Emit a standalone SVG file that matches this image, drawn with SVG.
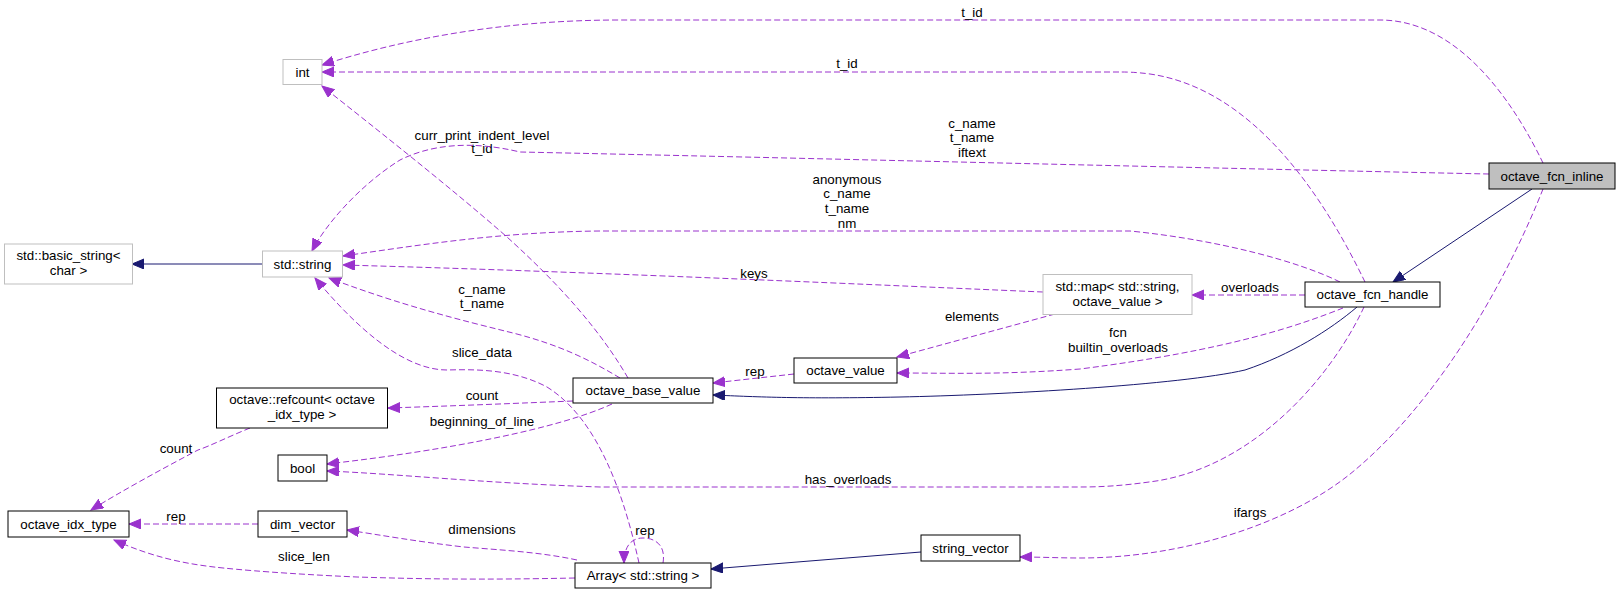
<svg xmlns="http://www.w3.org/2000/svg" width="1620" height="595" viewBox="0 0 1620 595">
<defs>
<style>
.n rect{fill:#fff;stroke:#000;stroke-width:1}
.n.g rect{stroke:#bfbfbf}
.n.cur rect{fill:#bfbfbf}
text{font-family:"Liberation Sans",Arial,Helvetica,sans-serif;font-size:13.33px;fill:#000;text-anchor:middle}
.e{fill:none;stroke:#9a32cd;stroke-width:1;stroke-dasharray:6,3;marker-end:url(#ap)}
.i{fill:none;stroke:#191970;stroke-width:1;marker-end:url(#an)}
</style>
<marker id="ap" markerUnits="userSpaceOnUse" markerWidth="13" markerHeight="11" refX="12" refY="5" orient="auto"><path d="M0,0 L12,5 L0,10 z" fill="#9a32cd" stroke="#9a32cd"/></marker>
<marker id="an" markerUnits="userSpaceOnUse" markerWidth="13" markerHeight="11" refX="12" refY="5" orient="auto"><path d="M0,0 L12,5 L0,10 z" fill="#191970" stroke="#191970"/></marker>
</defs>
<rect width="1620" height="595" fill="#fff"/>
<g id="edges">
<path class="i" d="M1532,189 L1393,282"/>
<path class="i" d="M1357,307 C1330,330 1290,355 1245,370 C1180,385 1000,395 900,397 C800,399 760,397 713,395"/>
<path class="i" d="M921,552 L711,569"/>
<path class="i" d="M262,264 L132,264"/>
<path class="e" d="M1543,163 C1515,105 1460,20 1380,20 L620,20 C500,20 400,40 322,65"/>
<text x="972" y="16.5">t_id</text>
<path class="e" d="M1365,282 C1330,210 1260,90 1150,74 C1135,72 1125,72 1120,72 L322,72"/>
<text x="847" y="67.5">t_id</text>
<path class="e" d="M628,378 C600,330 560,285 507,237 C450,187 380,132 322,86"/>
<text x="482" y="139.5">curr_print_indent_level</text>
<text x="482" y="153">t_id</text>
<path class="e" d="M1489,174 C1200,168 800,158 520,152 C470,140 430,145 400,160 C360,185 325,225 312,251"/>
<text x="972" y="127.5">c_name</text>
<text x="972" y="141.5">t_name</text>
<text x="972" y="156.5">iftext</text>
<path class="e" d="M1340,282 C1300,262 1220,240 1130,231 L600,231 C500,232 420,245 343,256"/>
<text x="847" y="183.5">anonymous</text>
<text x="847" y="197.5">c_name</text>
<text x="847" y="212.5">t_name</text>
<text x="847" y="227.5">nm</text>
<path class="e" d="M1043,292 C900,286 600,272 343,265"/>
<text x="754" y="277.5">keys</text>
<path class="e" d="M1305,295 L1192,295"/>
<text x="1250" y="291.5">overloads</text>
<path class="e" d="M1055,314 L897,357"/>
<text x="972" y="321">elements</text>
<path class="e" d="M1343,308 C1300,325 1230,350 1080,369 C1000,375 950,373 897,373"/>
<text x="1118" y="337">fcn</text>
<text x="1118" y="352">builtin_overloads</text>
<path class="e" d="M794,374 L713,383"/>
<text x="755" y="375.5">rep</text>
<path class="e" d="M620,378 C590,360 560,345 513,333 C460,320 400,305 329,278"/>
<text x="482" y="293.5">c_name</text>
<text x="482" y="307.5">t_name</text>
<path class="e" d="M639,563 C625,500 600,420 547,387 C515,370 480,369 447,370 C400,370 350,320 315,278"/>
<text x="482" y="356.5">slice_data</text>
<path class="e" d="M573,401 C500,404 450,406 388,408"/>
<text x="482" y="399.5">count</text>
<path class="e" d="M612,404 C560,428 450,450 327,464"/>
<text x="482" y="425.5">beginning_of_line</text>
<path class="e" d="M1364,307 C1330,380 1250,470 1149,482 C1120,486 1100,487 1080,487 L600,487 C480,483 400,474 327,471"/>
<text x="848" y="483.5">has_overloads</text>
<path class="e" d="M250,428 C230,436 210,446 198,450 C160,470 120,492 91,510"/>
<text x="176" y="452.5">count</text>
<path class="e" d="M258,524 L129,524"/>
<text x="176" y="520.5">rep</text>
<path class="e" d="M577,560 C540,552 500,550 464,547 C420,542 380,535 347,530"/>
<text x="482" y="533.5">dimensions</text>
<path class="e" d="M575,578 C480,580 420,579 357,577 C290,574 240,570 214,567 C180,563 150,556 114,540"/>
<text x="304" y="560.5">slice_len</text>
<path class="e" d="M663,563 C666,545 655,538 643,538 C630,538 624,548 624,563"/>
<text x="645" y="535">rep</text>
<path class="e" d="M1543,189 C1515,260 1450,390 1355,470 C1290,525 1180,558 1080,558 C1060,558 1040,557 1020,557"/>
<text x="1250" y="516.5">ifargs</text>
</g>
<g id="node_octave_fcn_inline" class="n cur"><rect x="1489" y="163" width="126" height="26"/><text x="1552" y="180.5">octave_fcn_inline</text></g>
<g id="node_octave_fcn_handle" class="n"><rect x="1305" y="282" width="135" height="25"/><text x="1372.5" y="299">octave_fcn_handle</text></g>
<g id="node_int" class="n g"><rect x="283" y="59.5" width="39" height="25"/><text x="302.5" y="76.5">int</text></g>
<g id="node_std_basic_string" class="n g"><rect x="4.5" y="244" width="128" height="40"/><text x="68.5" y="260">std::basic_string&lt;</text><text x="68.5" y="275">char &gt;</text></g>
<g id="node_std_string" class="n g"><rect x="262.5" y="251" width="80" height="26"/><text x="302.5" y="268.5">std::string</text></g>
<g id="node_std_map" class="n g"><rect x="1043" y="274.5" width="149" height="40"/><text x="1117.5" y="291">std::map&lt; std::string,</text><text x="1117.5" y="306">octave_value &gt;</text></g>
<g id="node_octave_value" class="n"><rect x="794" y="358" width="103" height="25"/><text x="845.5" y="375">octave_value</text></g>
<g id="node_octave_base_value" class="n"><rect x="573" y="378" width="140" height="25"/><text x="643" y="395">octave_base_value</text></g>
<g id="node_refcount" class="n"><rect x="216.5" y="388" width="171" height="40"/><text x="302" y="404">octave::refcount&lt; octave</text><text x="302" y="419">_idx_type &gt;</text></g>
<g id="node_bool" class="n"><rect x="278" y="455" width="49" height="26"/><text x="302.5" y="472.5">bool</text></g>
<g id="node_octave_idx_type" class="n"><rect x="8" y="511" width="121" height="26"/><text x="68.5" y="528.5">octave_idx_type</text></g>
<g id="node_dim_vector" class="n"><rect x="258" y="511" width="89" height="26"/><text x="302.5" y="528.5">dim_vector</text></g>
<g id="node_string_vector" class="n"><rect x="921" y="535" width="99" height="26"/><text x="970.5" y="552.5">string_vector</text></g>
<g id="node_Array" class="n"><rect x="575" y="563" width="136" height="25"/><text x="643" y="580">Array&lt; std::string &gt;</text></g>
</svg>
